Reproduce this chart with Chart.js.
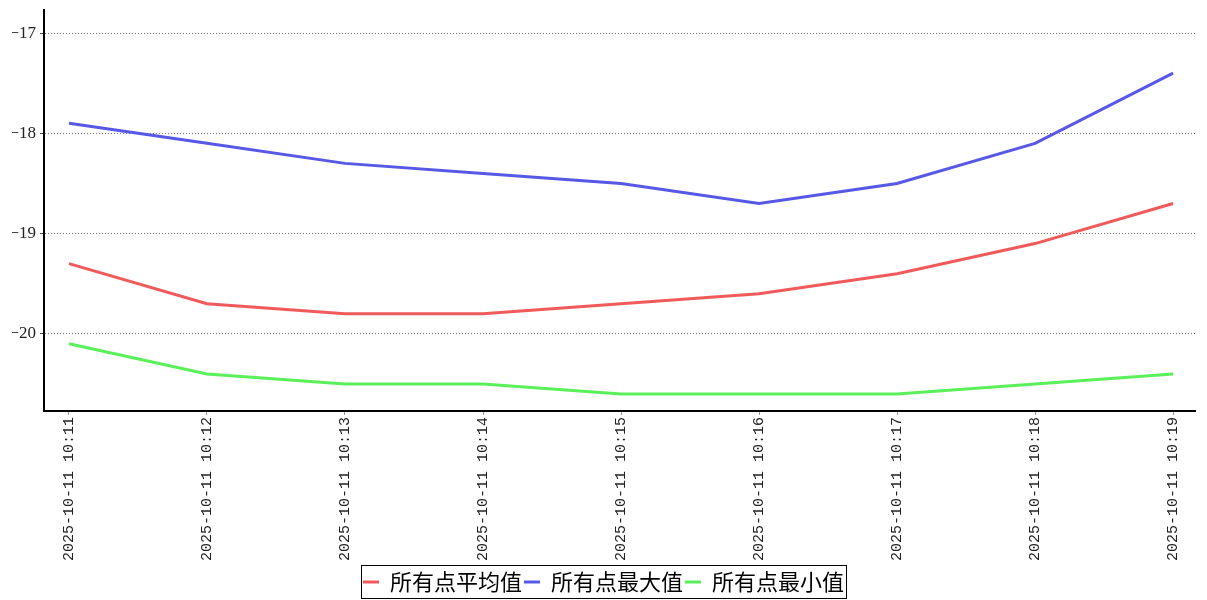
<!DOCTYPE html>
<html>
<head>
<meta charset="utf-8">
<script src="https://cdn.jsdelivr.net/npm/chart.js@4"></script>
<style>
  html, body { margin: 0; padding: 0; background: #fff; }
  #wrap { width: 1207px; height: 600px; }
</style>
</head>
<body>
<div id="wrap"><canvas id="c" width="1207" height="600"></canvas></div>
<script>
const categories = ["2025-10-11 10:11","2025-10-11 10:12","2025-10-11 10:13","2025-10-11 10:14","2025-10-11 10:15","2025-10-11 10:16","2025-10-11 10:17","2025-10-11 10:18","2025-10-11 10:19"];
const avgValues = [-19.3, -19.7, -19.8, -19.8, -19.7, -19.6, -19.4, -19.1, -18.7];
const maxValues = [-17.9, -18.1, -18.3, -18.4, -18.5, -18.7, -18.5, -18.1, -17.4];
const minValues = [-20.1, -20.4, -20.5, -20.5, -20.6, -20.6, -20.6, -20.5, -20.4];
const yTicks = [-20, -19, -18, -17];
const seriesNames = ["所有点平均值", "所有点最大值", "所有点最小值"];

const toPts = arr => arr.map((v, i) => ({x: i, y: v}));

const legendBorder = {
  id: 'legendBorder',
  afterDraw(chart) {
    const lg = chart.legend;
    if (!lg || !lg.legendHitBoxes || !lg.legendHitBoxes.length) return;
    const boxes = lg.legendHitBoxes;
    let l = Infinity, r = -Infinity, t = Infinity, b = -Infinity;
    boxes.forEach(h => { l = Math.min(l, h.left); r = Math.max(r, h.left + h.width); t = Math.min(t, h.top); b = Math.max(b, h.top + h.height); });
    const cy = (t + b) / 2;
    const ctx = chart.ctx;
    ctx.save();
    ctx.strokeStyle = '#000';
    ctx.lineWidth = 1;
    ctx.strokeRect(Math.round(l - 2) + 0.5, Math.round(cy - 17) + 0.5, Math.round(r - l + 4), 33);
    ctx.restore();
  }
};

new Chart(document.getElementById('c'), {
  type: 'line',
  data: {
    datasets: [
      { label: seriesNames[0], data: toPts(avgValues), borderColor: 'rgb(240,90,90)', backgroundColor: 'rgb(240,90,90)' },
      { label: seriesNames[1], data: toPts(maxValues), borderColor: 'rgb(88,88,230)', backgroundColor: 'rgb(88,88,230)' },
      { label: seriesNames[2], data: toPts(minValues), borderColor: 'rgb(90,240,90)', backgroundColor: 'rgb(90,240,90)' }
    ]
  },
  options: {
    responsive: false,
    animation: false,
    devicePixelRatio: 1,
    layout: { padding: { left: 12, right: 12, top: 10, bottom: -3 } },
    elements: {
      line: { borderWidth: 3, tension: 0 },
      point: { radius: 0, hoverRadius: 0 }
    },
    scales: {
      x: {
        type: 'linear',
        min: -0.181,
        max: 8.159,
        afterBuildTicks: s => { s.ticks = categories.map((_, i) => ({ value: i })); },
        afterFit: s => { s.height = 158; s.paddingLeft = 0; s.paddingRight = 0; },
        ticks: {
          autoSkip: false,
          minRotation: 90,
          maxRotation: 90,
          color: '#222',
          font: { family: 'Liberation Mono', size: 15 },
          padding: 2,
          callback: v => categories[v] ?? ''
        },
        grid: { drawOnChartArea: false, drawTicks: true, tickLength: 4, tickColor: '#999' },
        border: { display: true, color: '#000', width: 2 }
      },
      y: {
        min: -20.77,
        max: -16.77,
        afterBuildTicks: s => { s.ticks = yTicks.map(v => ({ value: v })); },
        afterFit: s => { s.width = 32; s.paddingTop = 0; s.paddingBottom = 0; },
        ticks: {
          color: '#222',
          font: { family: 'Liberation Serif', size: 17 },
          padding: 4,
          callback: v => String(v).replace('-', '\u2212')
        },
        grid: {
          color: '#777',
          lineWidth: 1,
          tickLength: 4,
          tickColor: '#444',
          tickBorderDash: []
        },
        border: { display: true, color: '#000', width: 2, dash: [1, 2] }
      }
    },
    plugins: {
      legend: {
        position: 'bottom',
        labels: {
          boxWidth: 16,
          boxHeight: 3,
          padding: 2,
          color: '#000',
          font: { family: 'Noto Sans CJK SC', size: 22, lineHeight: 1.0 },
          generateLabels: chart => Chart.defaults.plugins.legend.labels.generateLabels(chart).map(l => Object.assign(l, { lineWidth: 0 }))
        }
      },
      tooltip: { enabled: false }
    }
  },
  plugins: [legendBorder]
});
</script>
</body>
</html>
